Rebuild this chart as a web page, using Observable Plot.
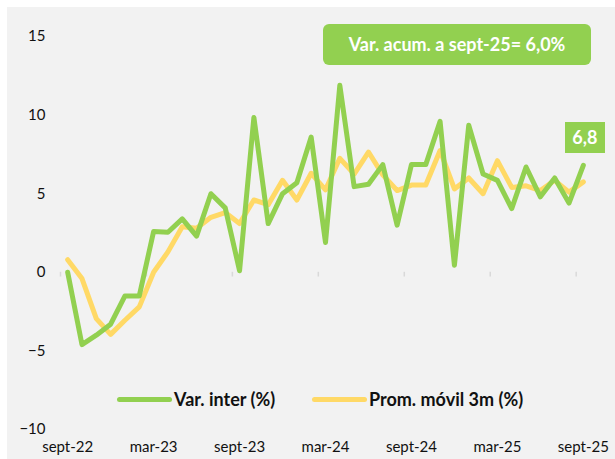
<!DOCTYPE html>
<html>
<head>
<meta charset="utf-8">
<script src="https://cdn.jsdelivr.net/npm/d3@7"></script>
<script src="https://cdn.jsdelivr.net/npm/@observablehq/plot@0.6"></script>
<style>
  html, body { margin: 0; padding: 0; background: #ffffff; }
  #wrap { position: relative; width: 615px; height: 459px; overflow: hidden; }
  #chart { position: absolute; left: 7px; top: 7px; }
  #chart svg { display: block; background: #f2f2f2; }
  .ov { position: absolute; font-family: Lato, "Open Sans", sans-serif; }
  .legline { position: absolute; height: 5px; border-radius: 3px; }
  .legtext { position: absolute; font-weight: 700; font-size: 18px; color: #111; line-height: 20px; white-space: nowrap; }
</style>
</head>
<body>
<div id="wrap">
  <div id="chart"></div>
</div>
<script>
const months = ["sept-22","oct-22","nov-22","dic-22","ene-23","feb-23","mar-23","abr-23","may-23","jun-23","jul-23","ago-23",
  "sept-23","oct-23","nov-23","dic-23","ene-24","feb-24","mar-24","abr-24","may-24","jun-24","jul-24","ago-24",
  "sept-24","oct-24","nov-24","dic-24","ene-25","feb-25","mar-25","abr-25","may-25","jun-25","jul-25","ago-25","sept-25"];
const varInter = [0.0,-4.6,-4.0,-3.3,-1.5,-1.5,2.6,2.55,3.4,2.3,5.0,4.1,
  0.1,9.85,3.1,5.0,5.7,8.6,1.9,11.9,5.45,5.6,6.85,3.0,
  6.85,6.85,9.6,0.45,9.35,6.25,5.85,4.05,6.7,4.8,6.0,4.4,6.8];
const promMovil = [0.8,-0.4,-2.95,-3.95,-3.05,-2.2,0.0,1.3,2.9,2.8,3.5,3.8,
  3.1,4.6,4.3,5.85,4.6,6.3,5.25,7.25,6.25,7.65,6.2,5.2,
  5.55,5.55,7.75,5.3,6.0,5.0,7.1,5.4,5.5,5.2,5.85,5.1,5.75];
const tickLabels = ["sept-22","mar-23","sept-23","mar-24","sept-24","mar-25","sept-25"];
const yTicks = [-10,-5,0,5,10,15];
const seriesNames = ["Var. inter (%)","Prom. móvil 3m (%)"];
const accumLabel = "Var. acum. a sept-25= 6,0%";

const green = "#92d050", yellow = "#ffd966";
const rows1 = months.map((m,i)=>({m, v: varInter[i]}));
const rows2 = months.map((m,i)=>({m, v: promMovil[i]}));

const W = 608, H = 452;
const mL = 53, mR = 25, mT = 29, mB = 30;
const step = (W - mL - mR) / months.length;

const plot = Plot.plot({
  width: W, height: H,
  marginLeft: mL, marginRight: mR, marginTop: mT, marginBottom: mB,
  style: {background: "#f2f2f2", fontFamily: "Lato, 'Open Sans', sans-serif", fontSize: "15px", color: "#111"},
  x: {type: "point", domain: months, padding: 0.5, round: false, label: null},
  y: {domain: [-10, 15], label: null},
  marks: [
    Plot.axisY({ticks: yTicks, tickSize: 0, tickPadding: 15, fontSize: 15, label: null}),
    Plot.axisX({ticks: tickLabels, tickSize: 0, tickPadding: 12, fontSize: 15, label: null}),
    Plot.ruleY([0], {stroke: "#d9d9d9", strokeWidth: 1.5, x1: months[0], x2: months[months.length-1]}),
    Plot.ruleX(tickLabels, {x: d => d, y1: 0, y2: -0.3, stroke: "#d9d9d9", strokeWidth: 1.5, dx: -step/2}),
    Plot.line(rows2, {x: "m", y: "v", stroke: yellow, strokeWidth: 5, strokeLinejoin: "round", strokeLinecap: "round"}),
    Plot.line(rows1, {x: "m", y: "v", stroke: green, strokeWidth: 5, strokeLinejoin: "round", strokeLinecap: "round"})
  ]
});
document.getElementById("chart").appendChild(plot);

const xs = plot.scale("x"), ys = plot.scale("y");
// extend zero line by half a step each side to cover category boundaries
plot.querySelectorAll("g[aria-label='rule'] line").forEach(l => {
  if (l.getAttribute("y1") === l.getAttribute("y2")) {
    l.setAttribute("x1", +l.getAttribute("x1") - step/2);
    l.setAttribute("x2", +l.getAttribute("x2") + step/2);
  }
});

const wrap = document.getElementById("wrap");
// annotation box
const box = document.createElement("div");
box.className = "ov";
Object.assign(box.style, {left: "323px", top: "24px", width: "268px", height: "41px", background: green,
  borderRadius: "6px", color: "#fff", fontWeight: "700", fontSize: "18px", lineHeight: "41px", textAlign: "center"});
box.textContent = accumLabel;
wrap.appendChild(box);

// last value label
const lastI = months.length - 1;
const lx = 7 + xs.apply(months[lastI]), ly = 7 + ys.apply(varInter[lastI]);
const lab = document.createElement("div");
lab.className = "ov";
Object.assign(lab.style, {left: (lx - 18) + "px", top: (ly - 43) + "px", width: "40px", height: "31px", background: green,
  color: "#fff", fontWeight: "700", fontSize: "18px", lineHeight: "31px", textAlign: "center"});
lab.textContent = varInter[lastI].toFixed(1).replace(".", ",");
wrap.appendChild(lab);

// legend
const leg = [{name: seriesNames[0], color: green, x: 117}, {name: seriesNames[1], color: yellow, x: 312}];
leg.forEach(d => {
  const ln = document.createElement("div");
  ln.className = "legline";
  Object.assign(ln.style, {left: d.x + "px", top: "397px", width: "55px", background: d.color});
  wrap.appendChild(ln);
  const t = document.createElement("div");
  t.className = "ov legtext";
  Object.assign(t.style, {left: (d.x + 57) + "px", top: "389px"});
  t.textContent = d.name;
  wrap.appendChild(t);
});
</script>
</body>
</html>
